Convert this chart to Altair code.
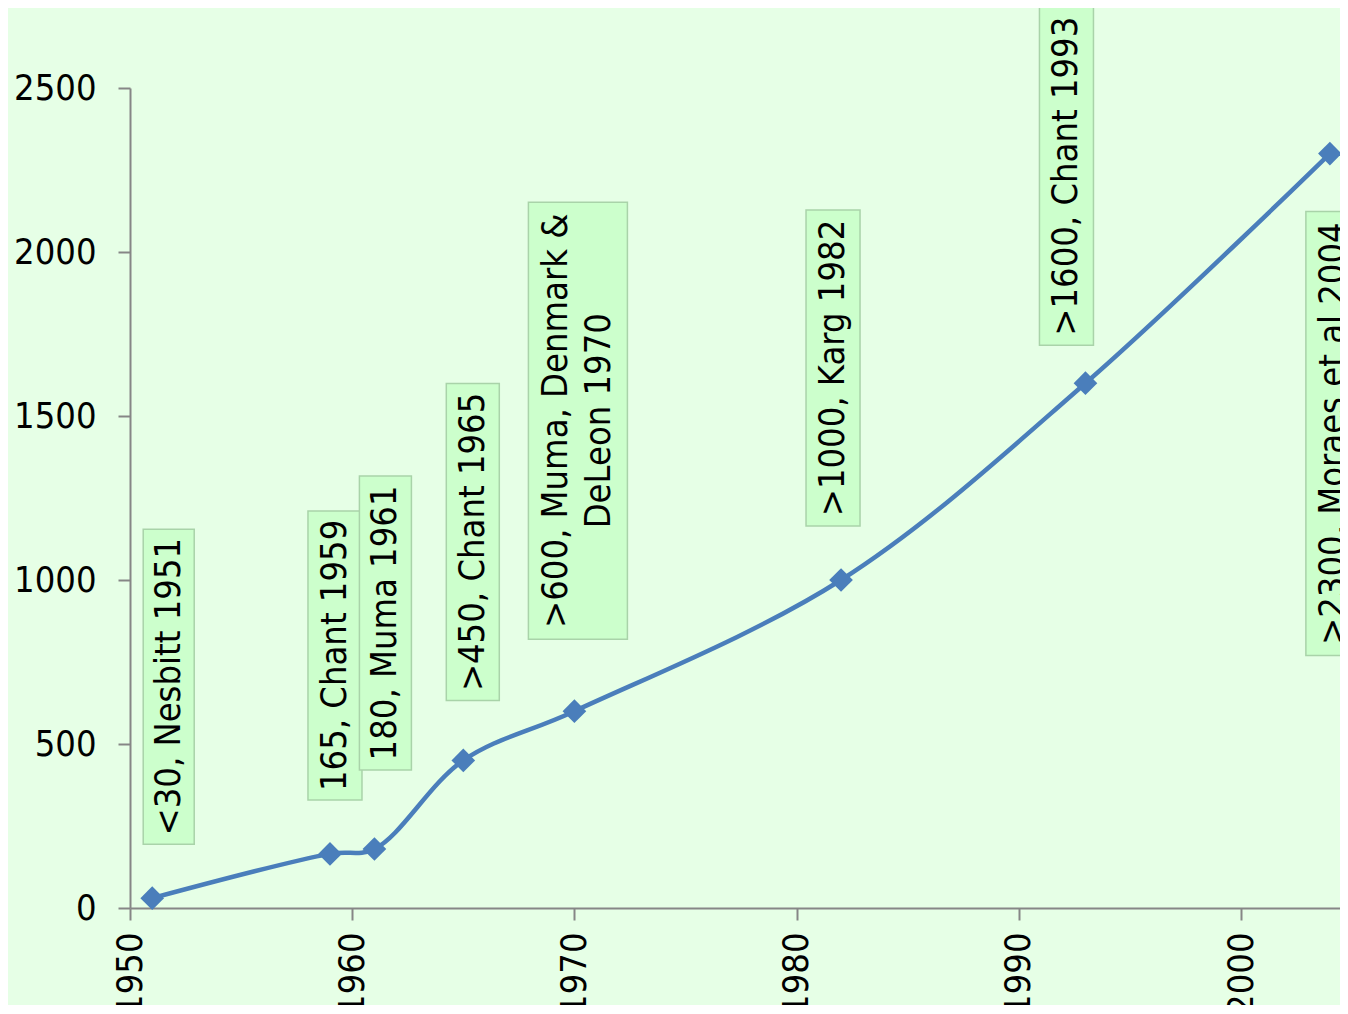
import altair as alt
import pandas as pd

# ---- data ----
years = [1951, 1959, 1961, 1965, 1970, 1982, 1993, 2004]
counts = [30, 165, 180, 450, 600, 1000, 1600, 2300]
labels = [
    "<30, Nesbitt 1951",
    "165, Chant 1959",
    "180, Muma 1961",
    ">450, Chant 1965",
    ">600, Muma, Denmark &\nDeLeon 1970",
    ">1000, Karg 1982",
    ">1600, Chant 1993",
    ">2300, Moraes et al 2004",
]
x_ticks = [1950, 1960, 1970, 1980, 1990, 2000]
y_ticks = [0, 500, 1000, 1500, 2000, 2500]

# ---- label placement (pixel offsets of box centre from its point, box size in px) ----
label_dx = [16.5, 5, 11, 9.5, 3.5, -8, -19, 3]
label_dy = [211.5, 198.5, 226, 218.5, 290.5, 212, 207, -280]
box_len = [315, 289, 294, 317, 437, 316, 338, 444]
box_wid = [51, 54, 52, 53, 99, 54, 54, 54]

# ---- layout ----
W, H = 1210, 820
X0 = 1950
PX_YEAR = 22.22
X1 = X0 + W / PX_YEAR
Y0, Y1 = 0, 2500
PX_VAL = H / (Y1 - Y0)
LINE_H = 43

FONT = "DejaVu Sans Condensed"
BLUE = "#4a7ebb"
BG = "#e6ffe6"

pts = pd.DataFrame({"year": years, "count": counts})

rows = []
for yr, c, lab, dx, dy, L, Wd in zip(years, counts, labels, label_dx, label_dy, box_len, box_wid):
    cx = yr + dx / PX_YEAR
    cy = c + dy / PX_VAL
    nlines = lab.count("\n") + 1
    # rotated 270deg: successive lines stack to the right, so centre the block
    tx = cx - (nlines - 1) * LINE_H / 2 / PX_YEAR
    rows.append({
        "label": lab,
        "tx": tx,
        "cy": cy,
        "x1": cx - Wd / 2 / PX_YEAR,
        "x2": cx + Wd / 2 / PX_YEAR,
        "y1": cy - L / 2 / PX_VAL,
        "y2": cy + L / 2 / PX_VAL,
    })
lab_df = pd.DataFrame(rows)

xscale = alt.Scale(domain=[X0, X1], nice=False, zero=False)
yscale = alt.Scale(domain=[Y0, Y1], nice=False)

xaxis = alt.Axis(values=x_ticks, format="d", labelAngle=270, title=None,
                 labelPadding=12, tickSize=12)
yaxis = alt.Axis(values=y_ticks, format="d", title=None, labelPadding=22, tickSize=12)

line = alt.Chart(pts).mark_line(interpolate="catmull-rom", color=BLUE, strokeWidth=4.5).encode(
    x=alt.X("year:Q", scale=xscale, axis=xaxis),
    y=alt.Y("count:Q", scale=yscale, axis=yaxis),
)
points = alt.Chart(pts).mark_point(shape="diamond", filled=True, size=560, color=BLUE, opacity=1).encode(
    x=alt.X("year:Q", scale=xscale),
    y=alt.Y("count:Q", scale=yscale),
)
boxes = alt.Chart(lab_df).mark_rect(fill="#ccffcc", stroke="#a9d3a9", strokeWidth=1.5).encode(
    x=alt.X("x1:Q", scale=xscale),
    x2="x2:Q",
    y=alt.Y("y1:Q", scale=yscale),
    y2="y2:Q",
)
texts = alt.Chart(lab_df).mark_text(angle=270, align="center", baseline="middle", font=FONT,
                                    fontSize=36, lineBreak="\n", lineHeight=LINE_H,
                                    color="black").encode(
    x=alt.X("tx:Q", scale=xscale),
    y=alt.Y("cy:Q", scale=yscale),
    text="label:N",
)

chart = alt.layer(boxes, texts, line, points).properties(
    width=W, height=H,
    background=BG,
    autosize=alt.AutoSizeParams(type="none"),
    padding={"left": 122, "top": 80, "right": 0, "bottom": 97},
).configure_view(stroke=None).configure_axis(
    grid=False,
    domainColor="#868686", domainWidth=2,
    tickColor="#868686", tickWidth=2,
    labelFont=FONT, labelFontSize=36, labelColor="black",
)

chart.save("out.html", embed_options={"renderer": "svg", "actions": False})
